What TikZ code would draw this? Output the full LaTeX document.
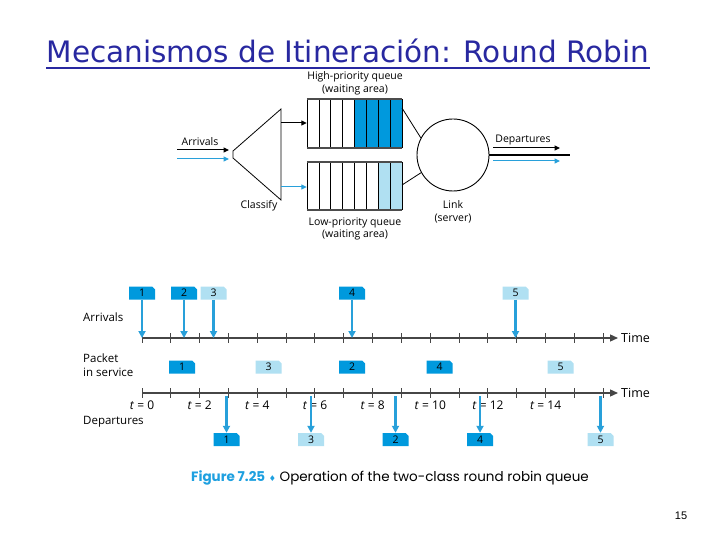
\documentclass[tikz,border=0pt]{standalone}
\usepackage{fontspec}
\setmainfont{Open Sans}
\newfontfamily\titlefont{DejaVu Sans}
\newfontfamily\capfont{Poppins}
\newfontfamily\symfont{DejaVu Sans}
\newfontfamily\pgfont{Liberation Sans}
\usetikzlibrary{arrows.meta,shapes.misc}
\definecolor{pblue}{RGB}{0,153,221}
\definecolor{plight}{RGB}{176,224,242}
\definecolor{ablue}{RGB}{40,160,218}
\definecolor{ttl}{RGB}{40,40,160}
\definecolor{axg}{RGB}{70,70,70}
\definecolor{capblue}{RGB}{30,160,224}
\begin{document}
\begin{tikzpicture}[x=1pt,y=-1pt,
  lbl/.style={font=\fontsize{10.5}{12.5}\selectfont, align=center, inner sep=0pt},
  tlbl/.style={font=\fontsize{11.5}{14}\selectfont, align=left, inner sep=0pt, anchor=west},
  pkt/.style={chamfered rectangle, chamfered rectangle corners=north east,
    chamfered rectangle sep=1.5pt, minimum width=26pt, minimum height=13pt,
    inner sep=0pt, font=\fontsize{10.5}{11}\selectfont},
  pktD/.style={pkt, fill=pblue},
  pktL/.style={pkt, fill=plight},
  barr/.style={draw=ablue, line width=2.5pt, -{Triangle[length=7pt,width=7pt]}},
  karr/.style={draw=black, line width=1pt, -{Triangle[length=5.5pt,width=5pt]}},
  carr/.style={draw=ablue, line width=1pt, -{Triangle[length=5.5pt,width=5pt]}},
  axisln/.style={draw=axg, line width=1.3pt},
  tick/.style={draw=axg, line width=1pt},
  qborder/.style={draw=black!70, line width=1.5pt},
  qcell/.style={draw=black, line width=0.7pt}]
\useasboundingbox (0,0) rectangle (720,540);
\fill[white] (0,0) rectangle (720,540);

% title
\node[anchor=base, inner sep=0pt, text=ttl, font=\titlefont\fontsize{29.5}{32}\selectfont] (title) at (348,63) {Mecanismos de Itineración: Round Robin};
\draw[ttl, line width=1.5pt] (title.base west) ++(0,5) coordinate (ul1) -- (title.base east |- ul1);

% ===== top diagram =====
% high-priority queue
\node[minimum width=95pt, minimum height=49pt, inner sep=0pt] (hq) at (354.5,123.5) {};
\fill[pblue] (354.5,99) rectangle (402,148);
\foreach \x in {307,318.9,330.8,342.6,354.5,366.4,378.3,390.1,402} \draw[qcell] (\x,99) -- (\x,148);
\draw[qborder] (hq.north west) -- (hq.north east);
\draw[qborder] (hq.south west) -- (hq.south east);
% low-priority queue
\node[minimum width=95pt, minimum height=48pt, inner sep=0pt] (lq) at (354.5,186) {};
\fill[plight] (378.3,162) rectangle (402,210);
\foreach \x in {307,318.9,330.8,342.6,354.5,366.4,378.3,390.1,402} \draw[qcell] (\x,162) -- (\x,210);
\draw[qborder] (lq.north west) -- (lq.north east);
\draw[qborder] (lq.south west) -- (lq.south east);

\node[lbl] (hqlbl) at (355,83.5) {High-priority queue\\(waiting area)};
\node[lbl] (lqlbl) at (355,229) {Low-priority queue\\(waiting area)};

% classifier
\draw[line width=0.8pt] (281,109) coordinate (clt) -- (233,151) -- (233,158) -- (281,200) coordinate (clb) -- cycle;
\node[lbl] (classify) at (259,206) {Classify};
\coordinate (clhi) at (281,123);
\coordinate (cllo) at (281,187);
\draw[karr] (clhi) -- (hq.west |- clhi);
\draw[carr] (cllo) -- (lq.west |- cllo);

% arrivals
\coordinate (ina) at (177,150);
\coordinate (inb) at (177,159);
\draw[karr] (ina) -- (229,150) coordinate (inae);
\draw[carr] (inb) -- (229,159) coordinate (inbe);
\node[lbl] (arrlbl) at (200,142) {Arrivals};

% link
\node[circle, draw, line width=0.9pt, minimum size=72pt, inner sep=0pt] (link) at (453,155) {};
\node[lbl] (linklbl) at (453,212) {Link\\(server)};
\coordinate (hqo) at (402,108);
\coordinate (lqo) at (402,185);
\draw[line width=0.8pt] (hqo) -- (link.152);
\draw[line width=0.8pt] (lqo) -- (link.209);

% departures
\coordinate (dend) at (570,155);
\draw[line width=1.6pt] (link.east) -- (dend);
\coordinate (da) at (493,148);
\coordinate (db) at (493,161);
\draw[karr] (da) -- (560,148) coordinate (dae);
\draw[carr] (db) -- (560,161) coordinate (dbe);
\node[lbl] (deplbl) at (523,140) {Departures};

% ===== timeline =====
\coordinate (a1s) at (142,338);
\coordinate (a1e) at (618,338);
\coordinate (a2s) at (142,393);
\coordinate (a2e) at (618,393);
\draw[axisln, -{Triangle[length=8pt,width=7pt]}] (a1s) -- (a1e);
\draw[axisln, -{Triangle[length=8pt,width=7pt]}] (a2s) -- (a2e);
\foreach \i in {0,...,16} {
  \draw[tick] (142+\i*28.83,333) -- (142+\i*28.83,343);
  \draw[tick] (142+\i*28.83,388) -- (142+\i*28.83,398);
}
\node[tlbl, font=\fontsize{12.5}{14}\selectfont] (time1) at (621,338) {Time};
\node[tlbl, font=\fontsize{12.5}{14}\selectfont] (time2) at (621,393) {Time};

\foreach \k in {0,2,...,14} {
  \node[lbl, font=\fontsize{12}{14}\selectfont] (tl\k) at (142+\k*28.83,405) {\textit{t} = \k};
}

\node[tlbl] (rowarr) at (83,317) {Arrivals};
\node[tlbl] (rowsvc) at (83,365) {Packet\\in service};
\node[tlbl] (rowdep) at (83,422) {Departures};

% arrivals packets
\node[pktD] (ar1) at (142,293) {1};
\node[pktD] (ar2) at (184,293) {2};
\node[pktL] (ar3) at (213.5,293) {3};
\node[pktD] (ar4) at (352,293) {4};
\node[pktL] (ar5) at (515.5,293) {5};
\foreach \p in {ar1,ar2,ar3,ar4,ar5} \draw[barr] (\p.south) -- (\p.south |- a1s);

% packets in service
\node[pktD] (sv1) at (182,367) {1};
\node[pktL] (sv3) at (268.5,367) {3};
\node[pktD] (sv2) at (352,367) {2};
\node[pktD] (sv4) at (439.5,367) {4};
\node[pktL] (sv5) at (560.5,367) {5};

% departures packets
\node[pktD] (dp1) at (226.5,439.5) {1};
\node[pktL] (dp3) at (311,439.5) {3};
\node[pktD] (dp2) at (395.5,439.5) {2};
\node[pktD] (dp4) at (480,439.5) {4};
\node[pktL] (dp5) at (600.5,439.5) {5};
\foreach \p in {dp1,dp3,dp2,dp4,dp5} \draw[barr, shorten <=3pt] (\p.north |- a2s) -- (\p.north);

% caption
\node[anchor=base, inner sep=0pt, font=\capfont\fontsize{13.5}{15}\selectfont] (cap) at (390,481)
  {\textcolor{capblue}{\bfseries Figure 7.25} \textcolor{capblue}{\symfont\fontsize{8}{9}\selectfont ♦} Operation of the two-class round robin queue};

% page number
\node[inner sep=0pt, font=\pgfont\fontsize{11}{13}\selectfont] (pg) at (681,516) {15};
\end{tikzpicture}
\end{document}
